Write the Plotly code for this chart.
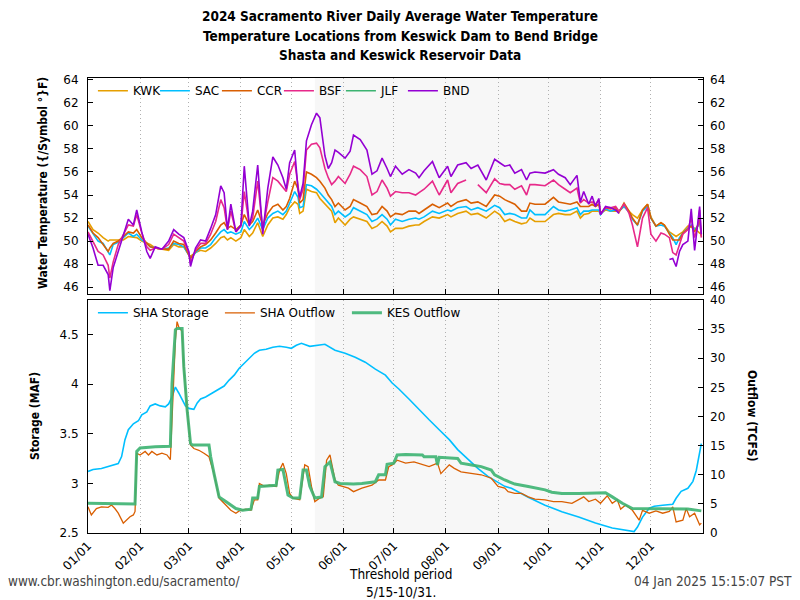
import pandas as pd
import plotly.graph_objects as go

# ---------------- data ----------------
TEMP_DAYS = [0, 3, 6, 9, 12, 13, 15, 18, 21, 24, 27, 29, 32, 35, 37, 40, 44, 48, 51, 54, 57, 60, 61, 64, 67, 70,
             73, 76, 79, 81, 83, 85, 88, 91, 93, 96, 98, 101, 104, 107, 110, 113, 116, 118, 120, 123, 125, 126,
             128, 130, 133, 136, 138, 141, 143, 145, 147, 149, 153, 156, 158, 162, 166, 169, 172, 175, 178, 180,
             183, 187, 191, 195, 197, 200, 205, 209, 214, 216, 220, 225, 228, 232, 237, 242, 245, 248, 251, 254,
             258, 261, 263, 266, 272, 277, 280, 284, 287, 291, 293, 295, 298, 300, 302, 304, 305, 308, 311, 314,
             316, 319, 322, 324, 327, 330, 333, 335, 338, 341, 343, 346, 348, 350, 352, 354, 357, 359, 361, 363,
             364, 365]

KWK = [51.7, 51.0, 50.7, 50.3, 50.0, 50.1, 50.1, 50.1, 50.1, 50.4, 50.3, 50.3, 50.0, 49.8, 49.7, 49.4, 49.3, 49.2,
       49.7, 49.5, 49.5, 48.8, 48.7, 49.0, 49.2, 49.1, 49.4, 49.8, 50.3, 50.4, 50.1, 50.3, 50.0, 50.3, 51.0, 50.4,
       50.7, 51.6, 50.4, 51.4, 52.0, 52.1, 51.9, 52.3, 52.9, 53.4, 53.2, 52.4, 52.6, 54.5, 54.3, 54.2, 53.7, 53.2,
       52.9, 52.6, 51.6, 52.0, 51.4, 51.9, 52.1, 51.9, 51.7, 51.1, 51.3, 51.7, 51.3, 50.8, 51.1, 51.1, 51.3, 51.4,
       51.4, 51.7, 52.1, 52.0, 52.3, 52.1, 52.4, 52.6, 52.3, 52.4, 52.0, 52.6, 52.3, 51.7, 51.9, 51.7, 51.5, 51.6,
       52.0, 51.7, 51.7, 52.3, 52.4, 52.3, 52.3, 52.6, 52.0, 52.3, 52.4, 52.6, 52.6, 52.6, 52.4, 52.7, 52.6, 52.6,
       52.6, 53.0, 52.6, 52.3, 52.0, 52.7, 53.2, 52.1, 51.3, 51.6, 51.4, 50.8, 50.6, 50.4, 50.6, 50.8, 51.3, 51.3,
       51.1, 50.8, 50.7, 50.6]
SAC = [51.3, 50.6, 50.0, 49.8, 49.0, 48.8, 49.7, 49.9, 50.3, 50.7, 50.4, 50.6, 50.1, 49.8, 49.5, 49.4, 49.3, 49.4,
       49.8, 49.7, 49.5, 48.8, 48.5, 49.0, 49.4, 49.4, 49.7, 50.3, 50.8, 51.0, 50.7, 50.8, 50.6, 50.8, 51.7, 51.0,
       51.3, 52.0, 51.0, 52.0, 52.4, 52.6, 52.3, 52.6, 53.3, 54.3, 53.8, 52.9, 53.0, 54.9, 54.8, 54.5, 54.2, 53.7,
       53.3, 53.0, 52.3, 52.6, 52.1, 52.4, 52.9, 52.6, 52.3, 51.7, 51.9, 52.3, 51.9, 51.4, 51.9, 51.7, 51.9, 52.0,
       51.9, 52.1, 52.6, 52.4, 52.7, 52.6, 52.9, 53.0, 52.7, 52.9, 52.6, 53.1, 52.9, 52.3, 52.4, 52.3, 52.0, 52.0,
       52.7, 52.3, 52.3, 53.0, 52.7, 52.6, 52.7, 52.9, 52.3, 52.6, 52.6, 52.7, 52.7, 52.7, 52.3, 52.8, 52.6, 52.7,
       52.6, 53.0, 52.5, 51.9, 51.4, 52.6, 53.0, 52.0, 51.3, 51.4, 51.3, 50.7, 50.3, 49.7, 50.3, 50.7, 51.1, 51.4,
       51.0, 51.3, 51.7, 50.6]
CCR = [51.4, 50.7, 50.3, 49.7, 49.1, 49.4, 49.8, 50.0, 50.4, 50.8, 50.7, 51.0, 50.3, 49.8, 49.5, 49.4, 49.3, 49.3,
       50.0, 49.8, 49.7, 48.8, 48.5, 49.1, 49.5, 49.7, 50.1, 50.7, 51.4, 51.6, 51.1, 51.3, 51.0, 51.4, 52.3, 51.4,
       51.7, 52.7, 51.4, 52.4, 53.0, 53.2, 52.7, 53.0, 53.7, 55.2, 54.5, 53.3, 53.6, 56.0, 55.8, 55.5, 55.2, 54.6,
       54.0, 53.6, 53.0, 53.3, 52.7, 53.0, 53.6, 53.3, 53.0, 52.3, 52.4, 53.0, 52.6, 52.1, 52.4, 52.3, 52.6, 52.6,
       52.4, 52.7, 53.2, 52.9, 53.3, 53.0, 53.4, 53.6, 53.3, 53.4, 53.0, 54.0, 53.9, 53.6, 53.4, 53.2, 52.6, 52.6,
       53.3, 53.2, 53.2, 53.8, 53.4, 53.3, 53.2, 53.4, 53.0, 53.0, 53.0, 53.2, 53.0, 53.2, 52.4, 52.9, 52.8, 52.9,
       52.5, 53.3, 52.6, 52.0, 51.4, 52.7, 53.2, 52.0, 51.3, 51.6, 51.4, 50.6, 50.1, 50.1, 50.1, 50.7, 51.1, 51.3,
       50.8, 51.4, 52.0, 50.4]
BSF = [50.8, 50.0, 49.1, 48.8, 47.9, 46.8, 48.2, 49.7, 50.5, 51.4, 51.3, 52.3, 50.7, 49.5, 49.2, 49.4, 49.3, 49.7,
       50.6, 50.3, 50.0, 49.0, 48.1, 49.2, 49.8, 49.8, 50.6, 51.7, 53.6, 52.9, 51.0, 52.6, 50.8, 51.3, 54.3, 51.4,
       52.0, 55.2, 51.0, 53.4, 55.5, 55.2, 54.6, 54.3, 55.8, 56.9, 54.8, 53.6, 54.5, 57.9, 58.4, 58.5, 58.1, 56.3,
       55.5, 54.9, 55.2, 55.6, 55.0, 55.8, 56.5, 56.2, 55.6, 54.0, 54.3, 55.3, 54.6, 53.9, 54.3, 54.2, 54.2, 54.0,
       54.2, 54.5, 55.2, 54.0, 55.3, 54.2, 55.0, 55.3, None, 54.9, 54.2, 55.4, 55.0, 54.9, 54.9, 54.5, 54.8, 54.0,
       54.9, 54.9, 54.8, 55.3, 54.9, 54.5, 54.2, 54.6, 53.3, 53.6, 53.3, 53.4, 53.2, 53.6, 52.3, 52.9, 52.9, 53.0,
       52.6, 53.2, 52.4, 51.4, 49.5, 52.0, 52.9, 50.6, 50.0, 50.7, 50.6, 50.3, 49.0, 48.8, 49.8, 50.6, 51.0, 52.0,
       50.3, 51.4, 52.7, 50.3]
JLF = [None] * len(TEMP_DAYS)
BND = [50.6, 49.4, 47.9, 47.9, 47.1, 45.7, 47.7, 49.1, 50.7, 51.9, 51.4, 52.7, 50.8, 49.1, 48.5, 49.5, 49.3, 50.0,
       51.0, 50.6, 50.3, 49.1, 47.8, 49.4, 50.1, 50.0, 51.1, 52.3, 54.8, 54.2, 51.0, 53.2, 50.8, 51.4, 56.5, 51.3,
       52.6, 56.6, 50.6, 54.6, 57.3, 56.6, 55.5, 54.5, 56.8, 57.9, 54.5, 53.8, 55.0, 58.7, 60.1, 61.1, 60.7, 57.4,
       56.3, 56.8, 57.9, 57.7, 57.2, 57.8, 59.2, 58.8, 57.9, 55.8, 56.1, 57.2, 56.3, 55.6, 56.5, 55.8, 56.2, 55.9,
       55.5, 56.1, 56.9, 55.5, 56.5, 55.6, 56.6, 56.8, 56.3, 56.6, 55.3, 57.1, 56.8, 56.5, 56.6, 55.9, 56.2, 55.3,
       55.9, 56.0, 55.9, 56.2, 55.8, 55.5, 54.9, 55.7, 53.4, 54.3, 53.2, 53.9, 53.0, 53.7, 52.3, 53.0, 52.9, 52.7,
       52.4, None, None, None, None, None, None, None, None, None, None, 48.4, 48.5, 47.8, 49.1, 49.7, 50.0, 52.8,
       49.2, 51.7, 53.0, 50.6]

STOR_DAYS = [0, 3, 8, 14, 18, 20, 22, 24, 27, 30, 32, 35, 37, 40, 43, 46, 48, 50, 52, 54, 56, 58, 60, 63, 65, 67,
             70, 74, 78, 81, 84, 87, 90, 93, 96, 99, 102, 106, 110, 114, 118, 121, 124, 127, 132, 137, 141, 147,
             153, 159, 165, 171, 177, 181, 185, 191, 197, 203, 209, 215, 220, 226, 232, 238, 244, 248, 252, 262,
             272, 282, 292, 302, 312, 322, 325, 327, 330, 334, 337, 342, 348, 350, 353, 357, 360, 362, 364, 365]
SHA_STORAGE = [3.12, 3.14, 3.15, 3.18, 3.20, 3.27, 3.44, 3.54, 3.60, 3.63, 3.69, 3.72, 3.78, 3.80, 3.78, 3.77,
               3.80, 3.87, 3.97, 3.91, 3.84, 3.78, 3.755, 3.745, 3.81, 3.85, 3.87, 3.91, 3.95, 3.98, 4.04, 4.09,
               4.16, 4.21, 4.27, 4.31, 4.34, 4.35, 4.37, 4.38, 4.37, 4.36, 4.39, 4.41, 4.38, 4.39, 4.40, 4.34,
               4.31, 4.27, 4.22, 4.15, 4.09, 4.01, 3.95, 3.85, 3.74, 3.64, 3.54, 3.44, 3.34, 3.24, 3.15, 3.07,
               3.01, 2.97, 2.95, 2.86, 2.78, 2.715, 2.66, 2.60, 2.55, 2.52, 2.515, 2.56, 2.66, 2.75, 2.77, 2.78,
               2.79, 2.85, 2.92, 2.95, 3.02, 3.13, 3.30, 3.40]

SHA_OUT_DAYS = [0, 2, 5, 8, 12, 14, 16, 18, 21, 23, 25, 27, 28, 29, 31, 34, 36, 38, 41, 44, 47, 49, 51, 52, 53, 54,
                56, 57, 59, 61, 63, 66, 69, 72, 75, 78, 82, 85, 88, 90, 94, 97, 99, 101, 102, 105, 108, 112, 114,
                116, 118, 120, 122, 124, 126, 129, 131, 133, 135, 138, 140, 142, 144, 147, 149, 155, 158, 163, 169,
                173, 177, 179, 181, 184, 189, 194, 199, 203, 208, 210, 215, 218, 222, 228, 234, 240, 244, 248, 250,
                254, 258, 262, 266, 272, 277, 282, 288, 295, 298, 302, 305, 309, 312, 315, 317, 320, 324, 328, 330,
                334, 338, 342, 346, 348, 350, 354, 356, 358, 361, 364, 365]
SHA_OUTFLOW = [4.5, 3.1, 4.2, 4.5, 4.4, 4.8, 4.2, 3.4, 1.7, 2.2, 2.8, 3.1, 3.7, 13.7, 13.4, 14.0, 13.4, 14.0, 13.4,
               13.7, 13.4, 12.6, 25.7, 33.1, 36.3, 35.4, 34.6, 28.6, 21.1, 15.1, 14.5, 14.2, 13.7, 13.1, 10.2, 6.0,
               4.8, 3.9, 3.4, 3.8, 4.1, 3.9, 5.7, 5.7, 8.5, 8.0, 8.2, 8.0, 10.8, 12.0, 10.2, 6.8, 6.0, 5.8, 5.7,
               11.7, 11.4, 8.0, 5.4, 6.0, 6.2, 12.5, 13.4, 9.1, 8.2, 7.7, 7.1, 7.7, 8.2, 9.1, 9.1, 11.4, 11.7, 12.5,
               12.0, 12.2, 11.7, 11.4, 12.0, 10.2, 11.7, 11.1, 10.5, 10.2, 10.0, 9.4, 8.0, 7.7, 7.1, 6.8, 6.8, 6.2,
               5.8, 5.7, 5.4, 5.4, 5.1, 6.2, 5.4, 5.8, 5.1, 6.4, 5.1, 5.7, 4.1, 4.8, 3.9, 2.2, 3.9, 3.4, 3.8, 3.4,
               3.7, 4.5, 1.9, 2.2, 4.2, 2.8, 3.4, 1.4, 1.7]

KES_OUT_DAYS = [0, 28, 29, 31, 40, 49, 50, 52, 53, 56, 57, 59, 61, 62, 72, 73, 75, 78, 82, 88, 92, 97, 98, 101, 102,
                107, 112, 113, 116, 119, 122, 126, 128, 130, 132, 135, 139, 141, 144, 147, 150, 158, 163, 171, 173,
                177, 178, 182, 184, 189, 199, 200, 207, 208, 209, 220, 222, 230, 234, 240, 242, 248, 254, 262, 272,
                276, 282, 292, 302, 308, 312, 318, 324, 332, 342, 349, 357, 365]
KES_OUTFLOW = [5.1, 5.0, 14.0, 14.6, 14.8, 14.9, 25.7, 34.9, 35.1, 35.1, 28.6, 21.1, 15.4, 15.1, 15.1, 13.1, 10.2,
               6.2, 5.4, 4.2, 3.9, 4.1, 6.0, 6.0, 8.0, 8.1, 8.2, 10.8, 10.9, 6.5, 6.0, 6.0, 10.8, 10.8, 8.0, 6.0,
               6.2, 11.4, 12.2, 8.8, 8.5, 8.4, 8.5, 8.8, 10.0, 10.0, 11.8, 12.0, 13.4, 13.5, 13.4, 13.1, 13.1, 11.7,
               13.0, 12.8, 12.0, 11.6, 11.4, 10.8, 10.0, 9.1, 8.4, 8.0, 7.4, 7.0, 6.8, 6.8, 6.8, 6.9, 6.2, 5.1, 4.2,
               4.2, 4.1, 4.2, 4.1, 3.8]

MONTH_TICKS = ["2024-%02d-01" % m for m in range(1, 13)]
MONTH_LABELS = ["%02d/01" % m for m in range(1, 13)]
TEMP_TICKS = list(range(46, 65, 2))
STOR_TICKS = [2.5, 3, 3.5, 4, 4.5]
STOR_LABELS = ["2.5", "3", "3.5", "4", "4.5"]
FLOW_TICKS = list(range(0, 41, 5))

BASE = pd.Timestamp("2024-01-01")


def to_dates(days):
    return [BASE + pd.Timedelta(days=d) for d in days]


FONT = "DejaVu Sans"
COND = "DejaVu Sans Condensed, Liberation Sans Narrow, DejaVu Sans"

fig = go.Figure()

temp_series = [("KWK", KWK, "#E69F00"), ("SAC", SAC, "#00BFFF"), ("CCR", CCR, "#D95F02"),
               ("BSF", BSF, "#E7298A"), ("JLF", JLF, "#3CB371"), ("BND", BND, "#9400D3")]
td = to_dates(TEMP_DAYS)
for name, vals, col in temp_series:
    fig.add_trace(go.Scatter(x=td, y=vals, name=name, mode="lines", line=dict(color=col, width=1.6),
                             xaxis="x", yaxis="y", legend="legend", connectgaps=False))
# invisible spacer entry so the last legend label is not clipped
fig.add_trace(go.Scatter(x=[td[0]], y=[None], name=" ", mode="lines", line=dict(color="rgba(0,0,0,0)"),
                         xaxis="x", yaxis="y", legend="legend", hoverinfo="skip"))
# helper for mirrored right-side temperature axis
fig.add_trace(go.Scatter(x=[td[0]], y=[None], xaxis="x", yaxis="y3", showlegend=False,
                         hoverinfo="skip", mode="lines"))

fig.add_trace(go.Scatter(x=to_dates(STOR_DAYS), y=SHA_STORAGE, name="SHA Storage", mode="lines",
                         line=dict(color="#00BFFF", width=1.6), xaxis="x2", yaxis="y2", legend="legend2"))
fig.add_trace(go.Scatter(x=to_dates(SHA_OUT_DAYS), y=SHA_OUTFLOW, name="SHA Outflow", mode="lines",
                         line=dict(color="#D95F02", width=1.3), xaxis="x2", yaxis="y4", legend="legend2"))
fig.add_trace(go.Scatter(x=to_dates(KES_OUT_DAYS), y=KES_OUTFLOW, name="KES Outflow", mode="lines",
                         line=dict(color="rgba(60,179,113,0.9)", width=3), xaxis="x2", yaxis="y4",
                         legend="legend2"))

xr = ["2024-01-01", "2025-01-01"]
common_x = dict(type="date", range=xr, tickvals=MONTH_TICKS, ticks="inside", ticklen=5, tickcolor="black",
                showgrid=True, gridcolor="#b0b0b0", griddash="1px,3px", gridwidth=1, showline=True,
                linecolor="black", linewidth=1, mirror=True, zeroline=False)
common_y = dict(ticks="inside", ticklen=5, tickcolor="black", showgrid=False, showline=True,
                linecolor="black", linewidth=1, zeroline=False, ticklabelstandoff=6)

top_dom = [0.525, 1.0]
bot_dom = [0.0, 0.512]

fig.update_layout(
    width=800, height=600, autosize=False,
    margin=dict(l=88, r=97, t=78, b=67),
    paper_bgcolor="white", plot_bgcolor="white",
    font=dict(family=FONT, size=12, color="black"),
    showlegend=True,
    xaxis=dict(common_x, anchor="y", showticklabels=False),
    yaxis=dict(common_y, domain=top_dom, range=[45.4, 64.15], tickvals=TEMP_TICKS, mirror=True),
    yaxis3=dict(common_y, overlaying="y", side="right", anchor="x", range=[45.4, 64.15],
                tickvals=TEMP_TICKS, showline=False),
    xaxis2=dict(common_x, anchor="y2", ticktext=MONTH_LABELS, tickangle=-45, matches="x"),
    yaxis2=dict(common_y, domain=bot_dom, range=[2.5, 4.846], tickvals=STOR_TICKS, ticktext=STOR_LABELS,
                mirror=True),
    yaxis4=dict(common_y, overlaying="y2", side="right", anchor="x2", range=[0, 40], tickvals=FLOW_TICKS,
                showline=False),
    legend=dict(orientation="h", x=0.008, xanchor="left", y=0.972, yanchor="middle",
                bgcolor="rgba(0,0,0,0)", font=dict(size=12), entrywidth=17, itemwidth=30),
    legend2=dict(orientation="h", x=0.008, xanchor="left", y=0.484, yanchor="middle",
                 bgcolor="rgba(0,0,0,0)", font=dict(size=12), entrywidth=82, itemwidth=30),
)

# threshold period shading
for yref in ("y domain", "y2 domain"):
    fig.add_shape(type="rect", xref="x" if yref.startswith("y ") else "x2", yref=yref,
                  x0="2024-05-15", x1="2024-10-31T20:00", y0=0, y1=1,
                  fillcolor="#f7f7f7", line=dict(width=0), layer="below")

title_lines = ["2024 Sacramento River Daily Average Water Temperature",
               "Temperature Locations from Keswick Dam to Bend Bridge",
               "Shasta and Keswick Reservoir Data"]
for i, t in enumerate(title_lines):
    fig.add_annotation(text="<b>%s</b>" % t, xref="paper", yref="paper", x=(400 - 88) / 615,
                       y=(533 - (16 + 19.5 * i)) / 455, xanchor="center", yanchor="middle", showarrow=False,
                       font=dict(family=COND, size=13.5, color="black"))

fig.add_annotation(text="<b>Water Temperature ({/Symbol °}F)</b>", textangle=-90, xref="paper", yref="paper",
                   x=(43 - 88) / 615, y=(533 - 183) / 455, xanchor="center", yanchor="middle", showarrow=False,
                   font=dict(family=COND, size=12))
fig.add_annotation(text="<b>Storage (MAF)</b>", textangle=-90, xref="paper", yref="paper",
                   x=(35 - 88) / 615, y=(533 - 416) / 455, xanchor="center", yanchor="middle", showarrow=False,
                   font=dict(family=COND, size=12))
fig.add_annotation(text="<b>Outflow (TCFS)</b>", textangle=90, xref="paper", yref="paper",
                   x=(752 - 88) / 615, y=(533 - 416) / 455, xanchor="center", yanchor="middle", showarrow=False,
                   font=dict(family=COND, size=12))

fig.add_annotation(text="Threshold period<br>5/15-10/31.", xref="paper", yref="paper",
                   x=(400 - 88) / 615, y=(533 - 583) / 455, xanchor="center", yanchor="middle",
                   showarrow=False, align="center", font=dict(family=COND, size=13.5, color="black"))
fig.add_annotation(text="www.cbr.washington.edu/sacramento/", xref="paper", yref="paper",
                   x=(6 - 88) / 615, y=(533 - 581) / 455, xanchor="left", yanchor="middle",
                   showarrow=False, font=dict(family=COND, size=13.5, color="#444444"))
fig.add_annotation(text="04 Jan 2025 15:15:07 PST", xref="paper", yref="paper",
                   x=(794 - 88) / 615, y=(533 - 581) / 455, xanchor="right", yanchor="middle",
                   showarrow=False, font=dict(family=COND, size=13.5, color="#444444"))

fig.write_html("out.html", post_script="document.body.style.margin='0px';",
               config={"displayModeBar": False})
